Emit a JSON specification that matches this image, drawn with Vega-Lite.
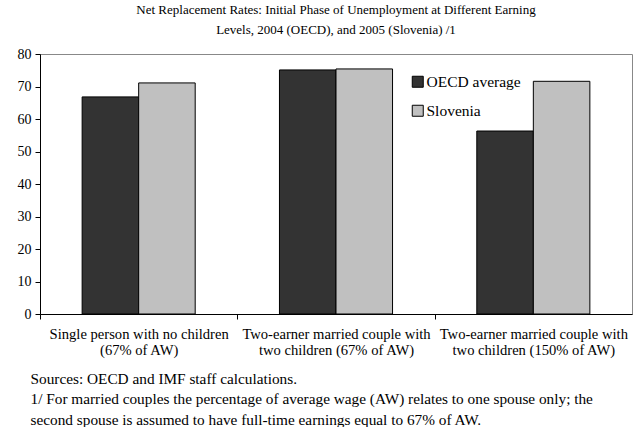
{
  "$schema": "https://vega.github.io/schema/vega-lite/v6.json",
  "width": 592,
  "height": 260,
  "autosize": {"type": "none"},
  "padding": {"left": 40, "top": 54, "right": 10, "bottom": 113},
  "background": "white",
  "title": {
    "text": ["Net Replacement Rates: Initial Phase of Unemployment at Different Earning", "Levels, 2004 (OECD), and 2005 (Slovenia) /1"],
    "font": "Liberation Serif",
    "fontSize": 13,
    "fontWeight": "normal",
    "color": "black",
    "anchor": "middle",
    "offset": 10,
    "lineHeight": 20
  },
  "data": {
    "values": [
      {"group": "Single person with no children|(67% of AW)", "series": "OECD average", "value": 66.8},
      {"group": "Single person with no children|(67% of AW)", "series": "Slovenia", "value": 71.1},
      {"group": "Two-earner married couple with|two children (67% of AW)", "series": "OECD average", "value": 75.1},
      {"group": "Two-earner married couple with|two children (67% of AW)", "series": "Slovenia", "value": 75.4},
      {"group": "Two-earner married couple with|two children (150% of AW)", "series": "OECD average", "value": 56.3},
      {"group": "Two-earner married couple with|two children (150% of AW)", "series": "Slovenia", "value": 71.6}
    ]
  },
  "mark": {"type": "bar", "stroke": "black", "strokeWidth": 1},
  "encoding": {
    "x": {
      "field": "group",
      "type": "nominal",
      "sort": null,
      "scale": {"paddingInner": 0.427, "paddingOuter": 0.2135},
      "axis": {
        "title": ["Sources: OECD and IMF staff calculations.", "1/ For married couples the percentage of average wage (AW) relates to one spouse only; the", "second spouse is assumed to have full-time earnings equal to 67% of AW."],
        "titleFont": "Liberation Serif",
        "titleFontSize": 15.3,
        "titleFontWeight": "normal",
        "titleColor": "black",
        "titleAnchor": "start",
        "titleAlign": "left",
        "titleBaseline": "middle",
        "titleX": -10,
        "titleY": 64,
        "titleLineHeight": 20.5,
        "labelExpr": "split(datum.label, '|')",
        "labelAngle": 0,
        "labelFont": "Liberation Serif",
        "labelFontSize": 14.6,
        "labelColor": "black",
        "labelLimit": 0,
        "labelLineHeight": 16.5,
        "labelPadding": 7,
        "labelOffset": 98.65,
        "tickOffset": -98.65,
        "tickSize": 5,
        "tickColor": "black",
        "domainColor": "black",
        "grid": false
      }
    },
    "xOffset": {"field": "series", "type": "nominal", "scale": {"paddingInner": 0, "paddingOuter": 0}},
    "y": {
      "field": "value",
      "type": "quantitative",
      "scale": {"domain": [0, 80]},
      "axis": {
        "title": null,
        "values": [0, 10, 20, 30, 40, 50, 60, 70, 80],
        "labelFont": "Liberation Serif",
        "labelFontSize": 14,
        "labelColor": "black",
        "tickSize": 5,
        "tickColor": "black",
        "domainColor": "black",
        "grid": false,
        "labelPadding": 4
      }
    },
    "fill": {
      "field": "series",
      "type": "nominal",
      "scale": {"domain": ["OECD average", "Slovenia"], "range": ["#333333", "#c0c0c0"]},
      "legend": {
        "title": null,
        "orient": "none",
        "legendX": 370,
        "legendY": 20,
        "symbolType": "square",
        "symbolSize": 121,
        "symbolStrokeColor": "black",
        "symbolStrokeWidth": 1,
        "labelFont": "Liberation Serif",
        "labelFontSize": 15.5,
        "labelColor": "black",
        "labelOffset": 1,
        "rowPadding": 12
      }
    }
  },
  "config": {
    "view": {"stroke": "#888888", "strokeWidth": 1}
  }
}
